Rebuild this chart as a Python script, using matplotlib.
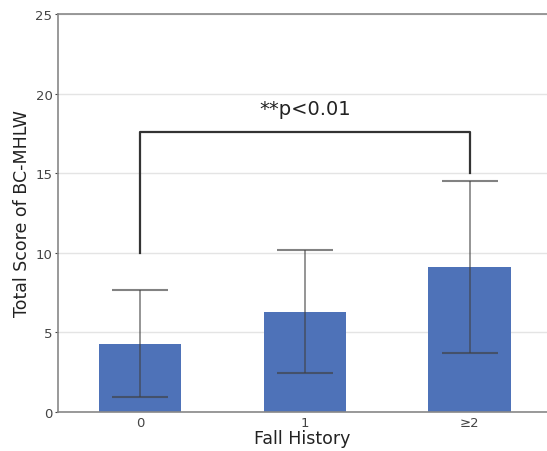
import numpy as np
import matplotlib
matplotlib.use("Agg")
import matplotlib.pyplot as plt

categories = ["0", "1", "≥2"]
means = [4.3, 6.3, 9.1]
sds = [3.35, 3.85, 5.4]
yticks = [0, 5, 10, 15, 20, 25]

# bracket between group 0 and group ≥2
bracket_top = 17.6
bracket_left_end = 10.0
bracket_right_end = 15.0
sig_label = "**p<0.01"

plt.rcParams['font.family'] = ['DejaVu Sans']

fig = plt.figure(figsize=(5.47, 4.52), dpi=100)
ax = fig.add_axes([58/547, 1-413/452, 1-58/547, (413-15)/452])

x = np.arange(len(categories))
ax.bar(x, means, width=0.5, color="#4E72B8", zorder=2)
ax.errorbar(x, means, yerr=sds, fmt="none", ecolor="#404040", alpha=0.65,
            elinewidth=1.2, capsize=20, capthick=1.5, zorder=3)

ax.plot([0, 0, 2, 2], [bracket_left_end, bracket_top, bracket_top, bracket_right_end],
        color="#333333", lw=1.6, zorder=4)
ax.text(1, bracket_top + 0.85, sig_label, ha="center", va="bottom", fontsize=14, color="#222222")

ax.set_xlim(-0.5, 2.47)
ax.set_ylim(0, 25)
ax.set_yticks(yticks)
ax.set_xticks(x, categories)
ax.tick_params(axis="both", labelsize=9.5, colors="#444444", length=2, pad=2)
ax.tick_params(axis="x", length=0, pad=3)
ax.yaxis.grid(True, color="#e4e4e4", lw=1, zorder=0)
ax.set_axisbelow(True)

for s in ["right"]:
    ax.spines[s].set_visible(False)
for s in ["left", "bottom", "top"]:
    ax.spines[s].set_color("#888888")
    ax.spines[s].set_linewidth(1.2)

ax.set_ylabel("Total Score of BC-MHLW", fontsize=12.5, color="#222222", labelpad=3)
ax.set_xlabel("Fall History", fontsize=12.5, color="#222222", labelpad=0)

fig.savefig("out.png", dpi=100)
